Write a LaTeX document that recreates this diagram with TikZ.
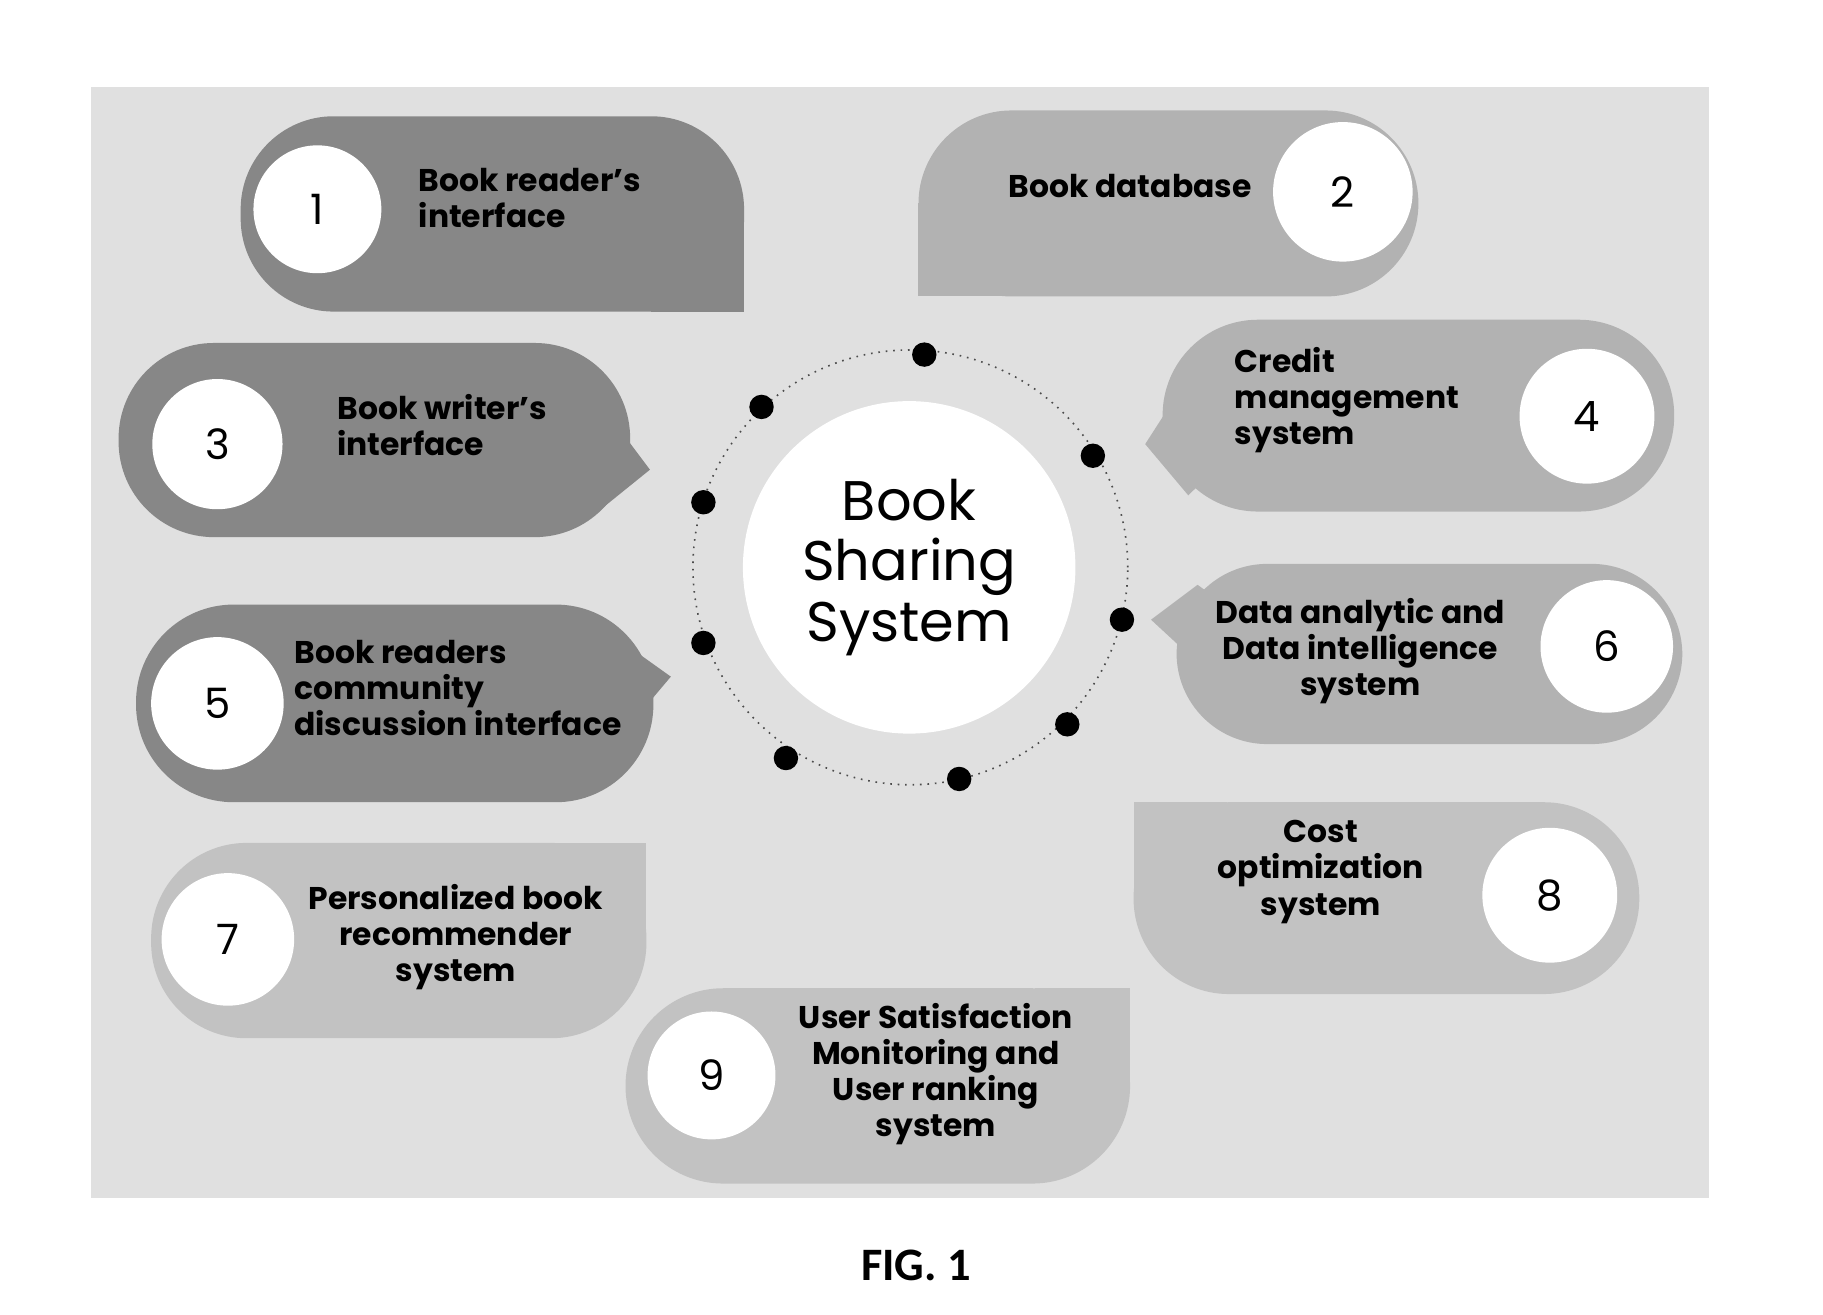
\documentclass[tikz,border=0pt]{standalone}
\usepackage{fontspec}
\setmainfont{Poppins}
\newfontfamily\figfont{Carlito}
\begin{document}
\begin{tikzpicture}[x=1pt,y=-1pt,
  dark/.style={fill=black!47},
  mid/.style={fill=black!30},
  pale/.style={fill=black!24},
  btext/.style={inner sep=0pt, font=\fontsize{27}{31}\selectfont\bfseries},
  numcirc/.style={circle, fill=white, inner sep=0pt, font=\fontsize{36}{36}\selectfont},
  ringdot/.style={circle, fill=black, minimum size=21pt, inner sep=0pt},
  ringline/.style={black!70, line width=1.4pt, dash pattern=on 1.4pt off 5pt}
]
\useasboundingbox (0,0) rectangle (1568,1131);
% panel
\fill[black!12] (78,75) rectangle (1470,1030);

% ring
\coordinate (rc) at (783,488);
\draw[ringline] (rc) circle[radius=187pt];

% bubble 1
\fill[dark, rounded corners=80pt] (207,100) rectangle (640,268);
\fill[dark] (560,190) rectangle (640,268);
% bubble 2
\fill[mid, rounded corners=80pt] (790,95) rectangle (1220,255);
\fill[mid] (790,175) rectangle (870,255);
% bubble 3
\fill[dark, rounded corners=82pt] (102,295) rectangle (542,462);
\fill[dark] (532,368) -- (559,404) -- (507,446) -- (470,400) -- cycle;
% bubble 4
\fill[mid, rounded corners=82pt] (1000,275) rectangle (1440,440);
\fill[mid] (1012,340) -- (985,382) -- (1022,426) -- (1065,385) -- cycle;
% bubble 5
\fill[dark, rounded corners=84pt] (117,520) rectangle (562,690);
\fill[dark] (535,552) -- (577,582) -- (550,614) -- (500,585) -- cycle;
% bubble 6
\fill[mid, rounded corners=78pt] (1012,485) rectangle (1447,640);
\fill[mid] (1030,503) -- (990,533) -- (1030,570) -- (1075,535) -- cycle;
% bubble 7
\fill[pale, rounded corners=82pt] (130,725) rectangle (556,893);
\fill[pale] (476,725) rectangle (556,805);
% bubble 8
\fill[pale, rounded corners=82pt] (975,690) rectangle (1410,855);
\fill[pale] (975,690) rectangle (1055,770);
% bubble 9
\fill[pale, rounded corners=84pt] (538,850) rectangle (972,1018);
\fill[pale] (890,850) rectangle (972,930);

% number circles
\node[numcirc, minimum size=110pt] (n1) at (273,180) {1};
\node[numcirc, minimum size=120pt] (n2) at (1155,165) {2};
\node[numcirc, minimum size=112pt] (n3) at (187,382) {3};
\node[numcirc, minimum size=116pt] (n4) at (1365,358) {4};
\node[numcirc, minimum size=114pt] (n5) at (187,605) {5};
\node[numcirc, minimum size=114pt] (n6) at (1382,556) {6};
\node[numcirc, minimum size=114pt] (n7) at (196,808) {7};
\node[numcirc, minimum size=116pt] (n8) at (1333,770) {8};
\node[numcirc, minimum size=110pt] (n9) at (612,925) {9};

% bubble texts
\node[btext, anchor=west, align=left] (b1) at (360,170) {Book reader's\\interface};
\node[btext] (b2) at (972,160) {Book database};
\node[btext, anchor=west, align=left] (b3) at (290,366) {Book writer's\\interface};
\node[btext, anchor=west, align=left] (b4) at (1062,344) {Credit\\management\\system};
\node[btext, anchor=west, align=left] (b5) at (253,592) {Book readers\\community\\discussion interface};
\node[btext, align=center] (b6) at (1170,560) {Data analytic and\\Data intelligence\\system};
\node[btext, align=center] (b7) at (392,806) {Personalized book\\recommender\\system};
\node[btext, align=center] (b8) at (1136,750) {Cost\\optimization\\system};
\node[btext, align=center] (b9) at (805,924) {User Satisfaction\\Monitoring and\\User ranking\\system};

% hub
\node[circle, fill=white, minimum size=286pt, inner sep=0pt, align=center,
      font=\fontsize{48}{52}\selectfont] (hub) at (782,488) {Book\\Sharing\\System};

% ring dots
\node[ringdot] (d1) at (795,305) {};
\node[ringdot] (d2) at (655,350) {};
\node[ringdot] (d3) at (940,392) {};
\node[ringdot] (d4) at (605,432) {};
\node[ringdot] (d5) at (965,533) {};
\node[ringdot] (d6) at (605,553) {};
\node[ringdot] (d7) at (918,623) {};
\node[ringdot] (d8) at (676,652) {};
\node[ringdot] (d9) at (825,670) {};

% caption
\node[font=\figfont\bfseries\fontsize{40}{40}\selectfont] (fig) at (788,1088) {FIG. 1};
\end{tikzpicture}
\end{document}
